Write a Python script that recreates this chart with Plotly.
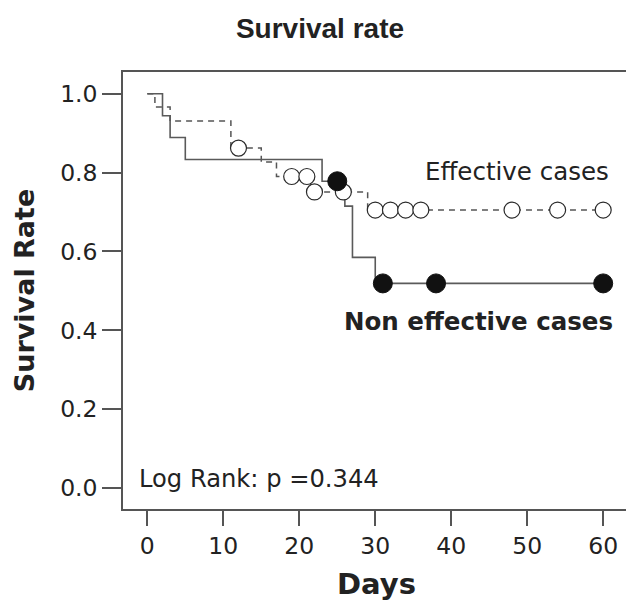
import plotly.graph_objects as go

# ---- data ----
# Effective cases (dashed step curve)
eff_days = [0, 1, 3, 11, 15, 17, 21.5, 29, 60]
eff_surv = [1.0, 0.966, 0.931, 0.862, 0.827, 0.790, 0.751, 0.705, 0.705]
eff_cens_days = [12, 19, 21, 22, 25.8, 30, 32, 34, 36, 48, 54, 60]
eff_cens_surv = [0.862, 0.790, 0.790, 0.751, 0.751, 0.705, 0.705, 0.705, 0.705, 0.705, 0.705, 0.705]

# Non effective cases (solid step curve)
non_days = [0, 2, 3, 5, 23, 26, 27, 30, 60]
non_surv = [1.0, 0.944, 0.889, 0.833, 0.778, 0.715, 0.585, 0.519, 0.519]
non_cens_days = [25, 31, 38, 60]
non_cens_surv = [0.778, 0.519, 0.519, 0.519]

x_ticks = [0, 10, 20, 30, 40, 50, 60]
y_ticks = [0.0, 0.2, 0.4, 0.6, 0.8, 1.0]
y_tick_text = ["0.0", "0.2", "0.4", "0.6", "0.8", "1.0"]

TXT = "#222222"
LINE = "#555555"
FIG_W = 630

fig = go.Figure()

fig.add_trace(go.Scatter(
    x=eff_days, y=eff_surv, mode="lines", line_shape="hv",
    line=dict(color=LINE, width=1.5, dash="6px,5px"),
    showlegend=False, hoverinfo="skip"))
fig.add_trace(go.Scatter(
    x=non_days, y=non_surv, mode="lines", line_shape="hv",
    line=dict(color="#5a5a5a", width=1.6),
    showlegend=False, hoverinfo="skip"))
fig.add_trace(go.Scatter(
    x=eff_cens_days, y=eff_cens_surv, mode="markers",
    marker=dict(symbol="circle", size=16, color="white",
                line=dict(color="#2a2a2a", width=1.2)),
    showlegend=False, name="Effective cases censored"))
fig.add_trace(go.Scatter(
    x=non_cens_days, y=non_cens_surv, mode="markers",
    marker=dict(symbol="circle", size=19, color="#111111",
                line=dict(color="#111111", width=1)),
    showlegend=False, name="Non effective cases censored"))

fig.add_annotation(x=61.0, y=0.803, xref="x", yref="y", text="Effective cases",
                   showarrow=False, xanchor="right", yanchor="middle",
                   font=dict(family="DejaVu Sans", size=24.5, color=TXT))
fig.add_annotation(x=61.6, y=0.4235, xref="x", yref="y", text="<b>Non effective cases</b>",
                   showarrow=False, xanchor="right", yanchor="middle",
                   font=dict(family="DejaVu Sans", size=24.5, color=TXT))
fig.add_annotation(x=-1.35, y=0.0235, xref="x", yref="y", text="Log Rank: p =0.344",
                   showarrow=False, xanchor="left", yanchor="middle",
                   font=dict(family="DejaVu Sans", size=24.2, color=TXT))

x_max = -3.2 + (FIG_W - 123) / 7.598

fig.update_layout(
    width=FIG_W, height=601,
    margin=dict(l=123, r=0, t=72, b=92),
    paper_bgcolor="white", plot_bgcolor="white",
    title=dict(text="<b>Survival rate</b>", x=320 / FIG_W, xref="container", xanchor="center",
               y=1 - 28 / 601, yref="container", yanchor="middle",
               font=dict(family="Liberation Sans, Arial", size=28, color=TXT)),
    xaxis=dict(range=[-3.2, x_max], tickmode="array", tickvals=x_ticks,
               ticks="outside", ticklen=15, tickwidth=1.5, tickcolor=LINE,
               showline=True, linecolor=LINE, linewidth=1.5, mirror=True,
               showgrid=False, zeroline=False,
               tickfont=dict(family="DejaVu Sans", size=23.5, color=TXT),
               title=dict(text="<b>Days</b>", standoff=17,
                          font=dict(family="DejaVu Sans", size=29, color=TXT)),
               automargin=False),
    yaxis=dict(range=[-0.053, 1.055], tickmode="array", tickvals=y_ticks, ticktext=y_tick_text,
               ticks="outside", ticklen=19, tickwidth=1.5, tickcolor=LINE,
               showline=True, linecolor=LINE, linewidth=1.5, mirror=False,
               showgrid=False, zeroline=False,
               tickfont=dict(family="DejaVu Sans", size=23.5, color=TXT),
               title=dict(text="<b>Survival Rate</b>", standoff=18,
                          font=dict(family="DejaVu Sans", size=27, color=TXT)),
               automargin=False),
)

fig.write_html("out.html",
               config={"displayModeBar": False},
               post_script="document.body.style.margin='0';document.body.style.overflow='hidden';")
